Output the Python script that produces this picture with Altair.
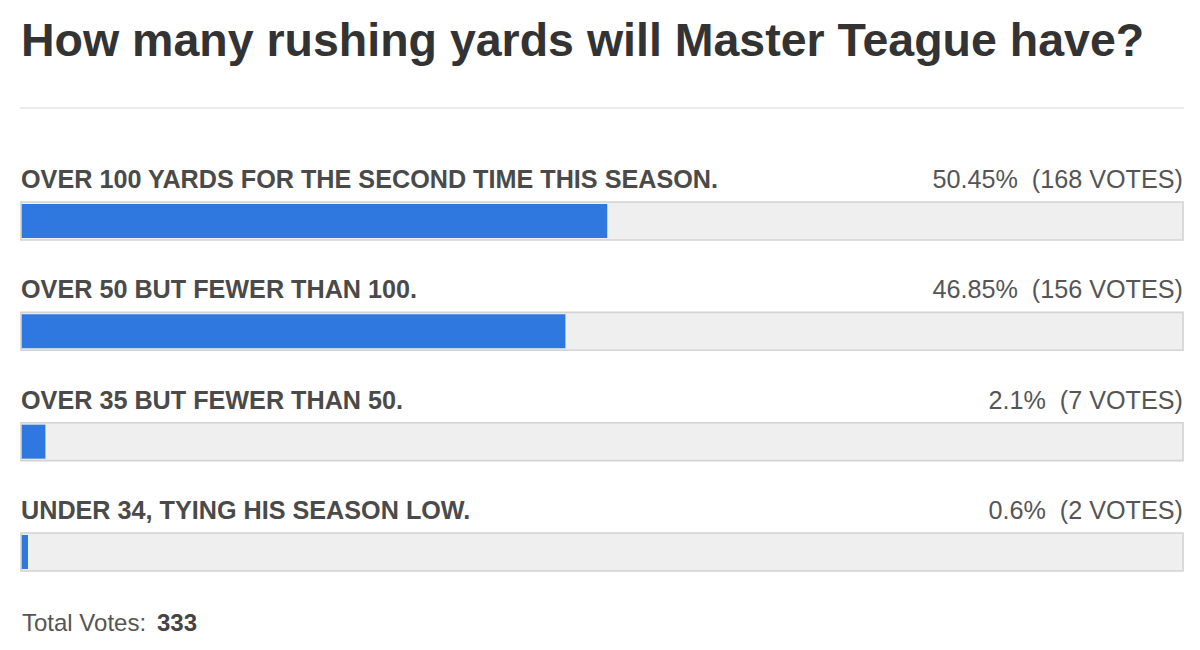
import altair as alt
import pandas as pd

title_text = "How many rushing yards will Master Teague have?"
choices = [
    "OVER 100 YARDS FOR THE SECOND TIME THIS SEASON.",
    "OVER 50 BUT FEWER THAN 100.",
    "OVER 35 BUT FEWER THAN 50.",
    "UNDER 34, TYING HIS SEASON LOW.",
]
percents = [50.45, 46.85, 2.1, 0.6]
votes = [168, 156, 7, 2]
total_label = "Total Votes: "

results = [f"{p:g}% \u00a0({v} VOTES)" for p, v in zip(percents, votes)]
df = pd.DataFrame({"choice": choices, "pct": percents, "votes": votes, "result": results})

FONT = "Liberation Sans"
x_scale = alt.Scale(domain=[0, 100], range=[21, 1183])
y_scale = alt.Scale(domain=choices, range=[202, 571], paddingInner=0.656, paddingOuter=0)

base = alt.Chart(df).transform_calculate(full="100", zero="0").encode(
    y=alt.Y("choice:N", scale=y_scale, axis=None, sort=choices)
)

track = base.mark_bar(fill="#efefef").encode(
    x=alt.X("full:Q", scale=x_scale, axis=None)
)
fillbar = base.mark_bar(fill="#2f78df", height=34).encode(
    x=alt.X("pct:Q", scale=x_scale, axis=None)
)
border = base.mark_bar(fillOpacity=0, stroke="#d3d3d3", strokeWidth=1.6).encode(
    x=alt.X("full:Q", scale=x_scale, axis=None)
)
left_labels = base.mark_text(
    align="left", baseline="alphabetic", dy=-33, font=FONT, fontSize=25.2,
    fontWeight="bold", color="#4a4a4a"
).encode(x=alt.X("zero:Q", scale=x_scale, axis=None), text="choice:N")
right_labels = base.mark_text(
    align="right", baseline="alphabetic", dy=-33, font=FONT, fontSize=25.2,
    color="#555555"
).encode(x=alt.X("full:Q", scale=x_scale, axis=None), text="result:N")

one = pd.DataFrame({"title": [title_text], "total_label": [total_label], "total": [str(sum(votes))]})
head = alt.Chart(one)
title = head.mark_text(
    align="left", baseline="alphabetic", font=FONT, fontSize=46.5, fontWeight="bold", color="#333333"
).encode(x=alt.value(21), y=alt.value(56), text="title:N")
separator = head.mark_rule(color="#e6e6e6", strokeWidth=1.5).encode(
    x=alt.value(20), x2=alt.value(1184), y=alt.value(108)
)
footer1 = head.mark_text(
    align="left", baseline="alphabetic", font=FONT, fontSize=24, color="#555555"
).encode(x=alt.value(22), y=alt.value(631), text="total_label:N")
footer2 = head.mark_text(
    align="left", baseline="alphabetic", font=FONT, fontSize=24, fontWeight="bold", color="#444444"
).encode(x=alt.value(157), y=alt.value(631), text="total:N")

chart = alt.layer(
    track, fillbar, border, left_labels, right_labels, title, separator, footer1, footer2
).properties(
    width=1200, height=650, autosize=alt.AutoSizeParams(type="none"), padding=0, background="white"
).configure_view(stroke=None)

chart.save("out.html", embed_options={"renderer": "svg", "actions": False})
